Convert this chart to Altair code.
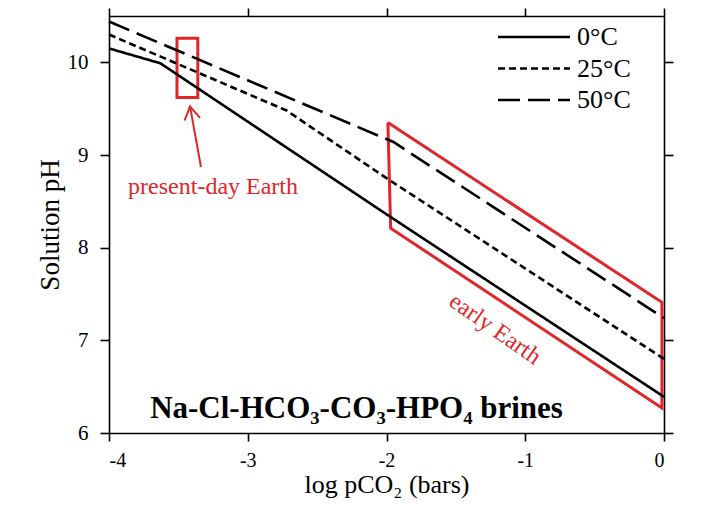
import altair as alt
import pandas as pd

# ---------------- data ----------------
temps = ["0°C", "25°C", "50°C"]
logp_0C = [-4.0, -3.63, -2.0, 0.0]
ph_0C = [10.15, 9.99, 8.36, 6.39]
logp_25C = [-4.0, -2.72, -2.0, 0.0]
ph_25C = [10.30, 9.48, 8.75, 6.80]
logp_50C = [-4.0, -1.95, 0.0]
ph_50C = [10.44, 9.14, 7.24]

x_tick_values = [-4, -3, -2, -1, 0]
y_tick_values = [6, 7, 8, 9, 10]
x_domain = [-4, 0]
y_domain = [6, 10.5]

present_logp = [-3.51, -3.36]
present_ph = [9.62, 10.26]
arrow_logp = [-3.337, -3.416]
arrow_ph = [8.87, 9.525]
early_logp = [-1.99, -0.015, -0.015, -1.97, -1.99]
early_ph = [9.35, 7.41, 6.27, 8.21, 9.35]

label_texts = ["present-day Earth", "early Earth", "Na-Cl-HCO₃-CO₃-HPO₄ brines"]
label_logp = [-3.25, -1.218, -2.216]
label_ph = [8.576, 7.12, 6.16]

FONT = "Liberation Serif"
RED = "#e0262b"

# ---------------- tables ----------------
rows = []
for t, xs_, ys_ in zip(temps, [logp_0C, logp_25C, logp_50C], [ph_0C, ph_25C, ph_50C]):
    for i, (a, b) in enumerate(zip(xs_, ys_)):
        rows.append({"temp": t, "logp": a, "ph": b, "i": i})
lines_df = pd.DataFrame(rows)

present_df = pd.DataFrame({"x1": [present_logp[0]], "x2": [present_logp[1]],
                           "y1": [present_ph[0]], "y2": [present_ph[1]]})
arrow_df = pd.DataFrame({"logp": arrow_logp, "ph": arrow_ph, "i": [0, 1]})
head_df = arrow_df.iloc[[1]]
early_df = pd.DataFrame({"logp": early_logp, "ph": early_ph, "i": list(range(len(early_logp)))})
lab_df = pd.DataFrame({"label": label_texts, "logp": label_logp, "ph": label_ph})

xs = alt.Scale(domain=x_domain, nice=False, zero=False)
ys = alt.Scale(domain=y_domain, nice=False, zero=False)

x_axis = alt.Axis(values=x_tick_values, labelExpr="'' + datum.value", title="log pCO₂ (bars)",
                  tickSize=8, labelPadding=9, titlePadding=1, labelFontSize=20, titleFontSize=26,
                  labelFont=FONT, titleFont=FONT)
y_axis = alt.Axis(values=y_tick_values, labelExpr="'' + datum.value", title="Solution pH",
                  tickSize=9, labelPadding=12, titlePadding=3, labelFontSize=21, titleFontSize=27,
                  labelFont=FONT, titleFont=FONT)

legend = alt.Legend(title=None, orient="none", legendX=412, legendY=8,
                    symbolType="M-8,0H8", symbolSize=81, symbolStrokeWidth=2.6,
                    symbolStrokeColor="black", symbolFillColor="transparent",
                    labelFont=FONT, labelFontSize=26, labelColor="black",
                    labelOffset=30, rowPadding=5.5, padding=0)

lines = alt.Chart(lines_df).mark_line(color="black", strokeWidth=2.6).encode(
    x=alt.X("logp:Q", scale=xs, axis=x_axis),
    y=alt.Y("ph:Q", scale=ys, axis=y_axis),
    strokeDash=alt.StrokeDash("temp:N", sort=temps,
                              scale=alt.Scale(domain=temps, range=[[1, 0], [7, 4], [22, 8]]),
                              legend=legend),
    order="i:O",
)

early = alt.Chart(early_df).mark_line(color=RED, strokeWidth=3, strokeJoin="miter").encode(
    x=alt.X("logp:Q", scale=xs, axis=None),
    y=alt.Y("ph:Q", scale=ys, axis=None),
    order="i:O",
)

present = alt.Chart(present_df).mark_rect(fill="transparent", stroke=RED, strokeWidth=3).encode(
    x=alt.X("x1:Q", scale=xs, axis=None), x2="x2:Q",
    y=alt.Y("y1:Q", scale=ys, axis=None), y2="y2:Q",
)

arrow_line = alt.Chart(arrow_df).mark_line(color=RED, strokeWidth=2).encode(
    x=alt.X("logp:Q", scale=xs, axis=None),
    y=alt.Y("ph:Q", scale=ys, axis=None),
    order="i:O",
)

arrow_head = alt.Chart(head_df).mark_point(shape="M-0.6,1L0,0L0.6,1", size=676, filled=False,
                                           strokeWidth=2, color=RED, opacity=1, angle=350).encode(
    x=alt.X("logp:Q", scale=xs, axis=None),
    y=alt.Y("ph:Q", scale=ys, axis=None),
)

present_txt = alt.Chart(lab_df.iloc[[0]]).mark_text(font=FONT, fontSize=24, color=RED,
                                                    align="center", baseline="alphabetic").encode(
    x=alt.X("logp:Q", scale=xs, axis=None), y=alt.Y("ph:Q", scale=ys, axis=None), text="label:N")

early_txt = alt.Chart(lab_df.iloc[[1]]).mark_text(font=FONT, fontSize=24, color=RED, angle=35,
                                                  align="center", baseline="middle").encode(
    x=alt.X("logp:Q", scale=xs, axis=None), y=alt.Y("ph:Q", scale=ys, axis=None), text="label:N")

title_txt = alt.Chart(lab_df.iloc[[2]]).mark_text(font=FONT, fontSize=31, fontWeight="bold",
                                                  color="black", align="center",
                                                  baseline="alphabetic").encode(
    x=alt.X("logp:Q", scale=xs, axis=None), y=alt.Y("ph:Q", scale=ys, axis=None), text="label:N")

frame = alt.Chart(lines_df).mark_line(opacity=0).encode(
    x=alt.X("logp:Q", scale=xs, axis=alt.Axis(orient="top", values=x_tick_values, labels=False,
                                             title=None, tickSize=8)),
    y=alt.Y("ph:Q", scale=ys, axis=alt.Axis(orient="right", values=y_tick_values, labels=False,
                                           title=None, tickSize=9)),
    detail="temp:N",
)

chart = alt.layer(
    frame, early, present, arrow_line, arrow_head, lines, present_txt, early_txt, title_txt
).resolve_axis(x="independent", y="independent").properties(
    width=555, height=417,
    autosize=alt.AutoSizeParams(type="none"),
    padding={"left": 101, "top": 8, "right": 31, "bottom": 68},
).configure_view(stroke=None).configure_axis(
    labelFont=FONT, titleFont=FONT, labelColor="black", titleColor="black",
    domainColor="black", tickColor="black", domainWidth=1.6, tickWidth=1.6,
    grid=False, titleFontWeight="normal",
).configure_legend(labelFont=FONT)

chart.save("out.html", embed_options={"renderer": "svg", "actions": False})
